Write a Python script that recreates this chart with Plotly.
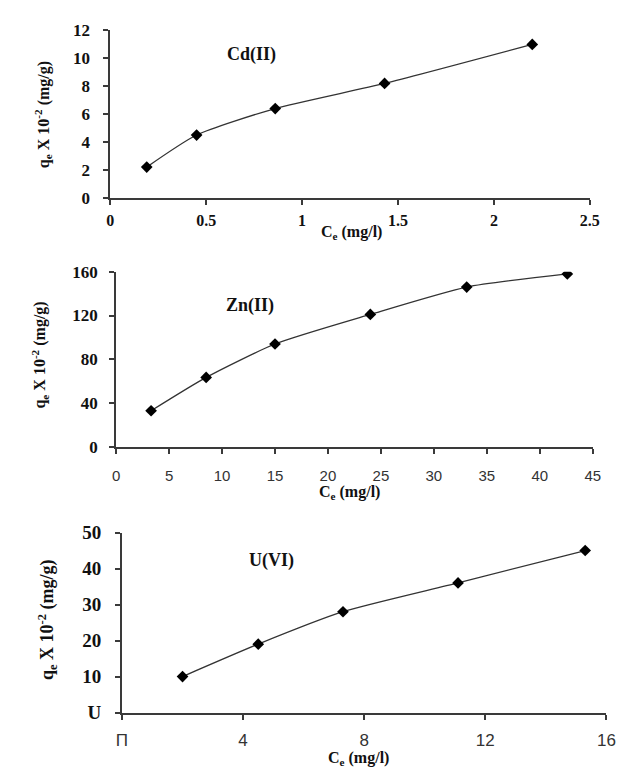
import plotly.graph_objects as go

# Cd(II)
cd_x = [0.19, 0.45, 0.86, 1.43, 2.2]
cd_y = [2.2, 4.5, 6.4, 8.2, 11.0]
cd_xticks = [0, 0.5, 1, 1.5, 2, 2.5]
cd_xticklabels = ["0", "0.5", "1", "1.5", "2", "2.5"]
cd_yticks = [0, 2, 4, 6, 8, 10, 12]
cd_yticklabels = ["0", "2", "4", "6", "8", "10", "12"]

# Zn(II)
zn_x = [3.3, 8.5, 15.0, 24.0, 33.1, 42.6]
zn_y = [33, 63.5, 94, 121, 146, 158]
zn_xticks = [0, 5, 10, 15, 20, 25, 30, 35, 40, 45]
zn_yticks = [0, 40, 80, 120, 160]

# U(VI)
u_x = [2.0, 4.5, 7.3, 11.1, 15.3]
u_y = [10, 19, 28, 36, 45]
u_xticks = [0, 4, 8, 12, 16]
u_xticklabels = ["\u03a0", "4", "8", "12", "16"]
u_yticks = [0, 10, 20, 30, 40, 50]
u_yticklabels = ["U", "10", "20", "30", "40", "50"]

W, H = 631, 779
serif_b = "Liberation Serif"
sans = "Liberation Sans"

fig = go.Figure()
line = dict(color="#333333", width=1.3, shape="spline", smoothing=0.6)
marker = dict(symbol="diamond", size=9, color="black")
fig.add_trace(go.Scatter(x=cd_x, y=cd_y, mode="lines+markers", line=line, marker=marker,
                         xaxis="x", yaxis="y", showlegend=False))
fig.add_trace(go.Scatter(x=zn_x, y=zn_y, mode="lines+markers", line=line, marker=marker,
                         xaxis="x2", yaxis="y2", showlegend=False))
fig.add_trace(go.Scatter(x=u_x, y=u_y, mode="lines+markers", line=line, marker=marker,
                         xaxis="x3", yaxis="y3", showlegend=False))

def px_x(p):
    return p / W

def px_y(p):
    return 1 - p / H

axis_common = dict(showgrid=False, zeroline=False, showline=True, linecolor="#3a3a3a",
                   linewidth=2, ticks="outside", tickcolor="#3a3a3a", ticklen=5, tickwidth=1.5)

def bold(size):
    return dict(family=serif_b, size=size, color="#111", weight="bold")

fig.update_layout(
    width=W, height=H, margin=dict(l=0, r=0, t=0, b=0),
    paper_bgcolor="white", plot_bgcolor="white",
    xaxis=dict(domain=[px_x(107), px_x(599)], range=[0, 2.5], anchor="y",
               tickvals=cd_xticks, ticktext=cd_xticklabels, ticklabelstandoff=2,
               tickfont=bold(16), **axis_common),
    yaxis=dict(domain=[px_y(193), px_y(21)], range=[0, 12], anchor="x",
               tickvals=cd_yticks, ticktext=cd_yticklabels, ticklabelstandoff=10,
               tickfont=bold(17), **axis_common),
    xaxis2=dict(domain=[px_x(113), px_x(602)], range=[0, 45], anchor="y2",
                tickvals=zn_xticks,
                tickfont=dict(family=sans, size=15, color="#333"), ticklabelstandoff=9,
                **axis_common),
    yaxis2=dict(domain=[px_y(449), px_y(269)], range=[0, 160], anchor="x2",
                tickvals=zn_yticks, ticklabelstandoff=8,
                tickfont=bold(17), **axis_common),
    xaxis3=dict(domain=[px_x(119), px_x(616)], range=[0, 16], anchor="y3",
                tickvals=u_xticks, ticktext=u_xticklabels,
                tickfont=dict(family=sans, size=17, color="#333"), ticklabelstandoff=6,
                **axis_common),
    yaxis3=dict(domain=[px_y(722), px_y(537)], range=[0, 50], anchor="x3",
                tickvals=u_yticks, ticktext=u_yticklabels, ticklabelstandoff=10,
                tickfont=bold(19), **axis_common),
)

ytitle = "q<sub>e</sub> X 10<sup>-2</sup> (mg/g)"
xtitle = "C<sub>e</sub> (mg/l)"
anns = [
    dict(text="<b>Cd(II)</b>", x=px_x(252), y=px_y(46), font=bold(18)),
    dict(text="<b>Zn(II)</b>", x=px_x(250), y=px_y(304), font=bold(18)),
    dict(text="<b>U(VI)</b>", x=px_x(272), y=px_y(566), font=bold(18)),
    dict(text="<b>" + ytitle + "</b>", x=px_x(38), y=px_y(108), textangle=-90, font=bold(16)),
    dict(text="<b>" + ytitle + "</b>", x=px_x(35), y=px_y(355), textangle=-90, font=bold(16)),
    dict(text="<b>" + ytitle + "</b>", x=px_x(42), y=px_y(626), textangle=-90, font=bold(18)),
    dict(text="<b>" + xtitle + "</b>", x=px_x(355), y=px_y(229), font=bold(16)),
    dict(text="<b>" + xtitle + "</b>", x=px_x(352), y=px_y(496), font=bold(16)),
    dict(text="<b>" + xtitle + "</b>", x=px_x(362), y=px_y(769), font=bold(16)),
]
for a in anns:
    a.update(xref="paper", yref="paper", showarrow=False, xanchor="center", yanchor="middle")
fig.update_layout(annotations=anns)

fig.write_html("out.html")
